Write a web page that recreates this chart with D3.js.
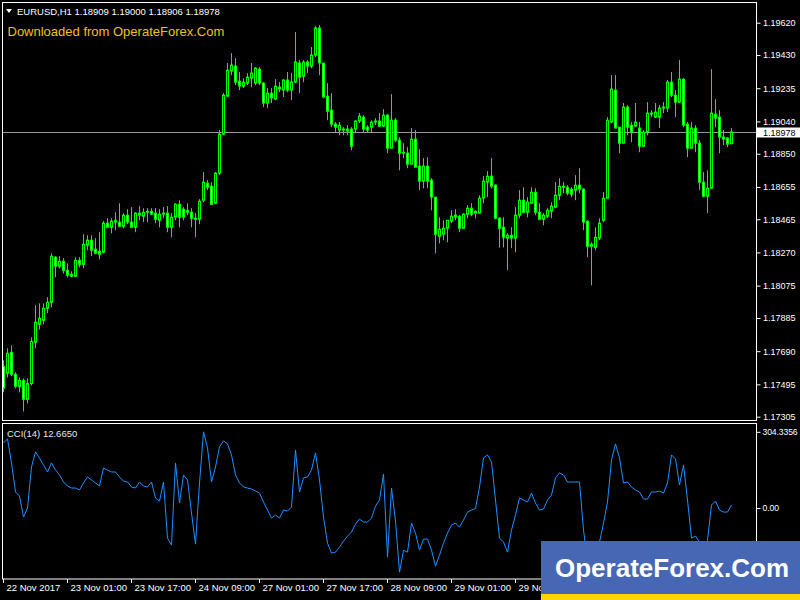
<!DOCTYPE html>
<html><head><meta charset="utf-8">
<script src="https://cdn.jsdelivr.net/npm/d3@7"></script>
<style>body{margin:0;background:#000;}svg{display:block;}text{font-family:"Liberation Sans",Arial,sans-serif;}</style>
</head><body>
<script>
const opens=[1.17601,1.17560,1.17683,1.17554,1.17483,1.17518,1.17407,1.17500,1.17742,1.17848,
1.17871,1.17942,1.17977,1.18242,1.18189,1.18218,1.18165,1.18142,1.18130,1.18224,
1.18200,1.18312,1.18342,1.18289,1.18277,1.18271,1.18442,1.18418,1.18448,1.18448,
1.18424,1.18489,1.18448,1.18418,1.18489,1.18483,1.18506,1.18512,1.18501,1.18459,
1.18495,1.18501,1.18418,1.18477,1.18553,1.18524,1.18506,1.18506,1.18471,1.18465,
1.18577,1.18677,1.18659,1.18559,1.18736,1.18965,1.19188,1.19336,1.19365,1.19277,
1.19247,1.19265,1.19294,1.19265,1.19347,1.19265,1.19148,1.19206,1.19171,1.19241,
1.19224,1.19283,1.19224,1.19271,1.19383,1.19306,1.19389,1.19365,1.19430,1.19589,
1.19383,1.19188,1.19106,1.19024,1.18989,1.18995,1.18983,1.18995,1.18995,1.19042,
1.19065,1.19006,1.19006,1.19036,1.19042,1.19012,1.19077,1.18883,1.19047,1.18930,
1.18853,1.18853,1.18789,1.18936,1.18777,1.18689,1.18777,1.18695,1.18595,1.18365,
1.18377,1.18412,1.18454,1.18477,1.18483,1.18412,1.18495,1.18530,1.18501,1.18501,
1.18589,1.18683,1.18718,1.18665,1.18471,1.18418,1.18354,1.18371,1.18354,1.18489,
1.18577,1.18506,1.18559,1.18624,1.18506,1.18465,1.18483,1.18512,1.18536,1.18606,
1.18659,1.18653,1.18642,1.18636,1.18665,1.18642,1.18454,1.18306,1.18300,1.18354,
1.18459,1.18589,1.19036,1.19224,1.19006,1.18912,1.19124,1.19018,1.19012,1.19001,
1.18894,1.18977,1.19089,1.19065,1.19065,1.19118,1.19118,1.19271,1.19194,1.19153,
1.19288,1.19024,1.18883,1.19001,1.18912,1.18683,1.18600,1.18647,1.19083,1.19065,
1.18948,1.18942,1.18909];
const highs=[1.17636,1.17707,1.17724,1.17566,1.17536,1.17530,1.17530,1.17771,1.17960,1.17971,
1.17971,1.18007,1.18265,1.18248,1.18248,1.18236,1.18206,1.18159,1.18242,1.18242,
1.18377,1.18371,1.18371,1.18354,1.18389,1.18454,1.18471,1.18471,1.18506,1.18559,
1.18501,1.18524,1.18536,1.18506,1.18542,1.18530,1.18530,1.18530,1.18530,1.18524,
1.18536,1.18542,1.18501,1.18559,1.18577,1.18536,1.18559,1.18530,1.18501,1.18583,
1.18742,1.18695,1.18683,1.18742,1.18989,1.19206,1.19383,1.19441,1.19412,1.19330,
1.19294,1.19324,1.19383,1.19359,1.19359,1.19271,1.19236,1.19236,1.19288,1.19271,
1.19288,1.19330,1.19324,1.19565,1.19400,1.19400,1.19400,1.19477,1.19600,1.19606,
1.19383,1.19265,1.19206,1.19036,1.19036,1.19006,1.19018,1.19006,1.19047,1.19089,
1.19077,1.19018,1.19047,1.19059,1.19089,1.19112,1.19083,1.19200,1.19059,1.18948,
1.18912,1.18889,1.19001,1.18989,1.18877,1.18824,1.18830,1.18706,1.18595,1.18477,
1.18459,1.18459,1.18518,1.18524,1.18489,1.18501,1.18548,1.18559,1.18518,1.18606,
1.18718,1.18748,1.18824,1.18671,1.18477,1.18477,1.18383,1.18418,1.18536,1.18636,
1.18653,1.18595,1.18653,1.18647,1.18559,1.18501,1.18530,1.18565,1.18683,1.18706,
1.18683,1.18665,1.18653,1.18724,1.18765,1.18647,1.18459,1.18330,1.18418,1.18471,
1.18624,1.19065,1.19312,1.19312,1.19006,1.19148,1.19136,1.19036,1.19148,1.19036,
1.18989,1.19153,1.19106,1.19148,1.19136,1.19153,1.19283,1.19330,1.19224,1.19400,
1.19294,1.19036,1.19036,1.19018,1.18930,1.18742,1.18753,1.19347,1.19171,1.19106,
1.18989,1.18948,1.19000];
const lows=[1.17448,1.17536,1.17542,1.17472,1.17448,1.17336,1.17383,1.17489,1.17707,1.17818,
1.17848,1.17913,1.17948,1.18124,1.18177,1.18147,1.18124,1.18124,1.18124,1.18183,
1.18177,1.18283,1.18248,1.18259,1.18230,1.18265,1.18412,1.18383,1.18401,1.18418,
1.18412,1.18436,1.18412,1.18389,1.18459,1.18448,1.18448,1.18489,1.18442,1.18418,
1.18471,1.18389,1.18359,1.18459,1.18418,1.18459,1.18489,1.18418,1.18359,1.18436,
1.18565,1.18636,1.18548,1.18553,1.18724,1.18959,1.19183,1.19312,1.19253,1.19224,
1.19236,1.19253,1.19241,1.19253,1.19253,1.19124,1.19118,1.19148,1.19165,1.19212,
1.19183,1.19212,1.19165,1.19265,1.19206,1.19271,1.19324,1.19353,1.19418,1.19312,
1.19177,1.19047,1.19006,1.18977,1.18959,1.18959,1.18959,1.18871,1.18977,1.19030,
1.18971,1.18977,1.18977,1.19018,1.19006,1.19006,1.18853,1.18883,1.18918,1.18753,
1.18824,1.18765,1.18789,1.18771,1.18636,1.18647,1.18647,1.18518,1.18265,1.18324,
1.18342,1.18330,1.18442,1.18459,1.18389,1.18412,1.18471,1.18483,1.18471,1.18501,
1.18559,1.18595,1.18647,1.18465,1.18300,1.18300,1.18165,1.18295,1.18271,1.18471,
1.18501,1.18477,1.18559,1.18489,1.18459,1.18430,1.18471,1.18471,1.18530,1.18577,
1.18618,1.18606,1.18595,1.18577,1.18618,1.18401,1.18242,1.18077,1.18283,1.18342,
1.18448,1.18589,1.19030,1.19001,1.18853,1.18912,1.18959,1.18918,1.19006,1.18859,
1.18889,1.18959,1.19065,1.19059,1.19001,1.19089,1.19095,1.19183,1.19065,1.19148,
1.19006,1.18830,1.18883,1.18859,1.18636,1.18595,1.18501,1.18647,1.19006,1.18853,
1.18900,1.18889,1.18906];
const closes=[1.17472,1.17677,1.17554,1.17483,1.17518,1.17407,1.17500,1.17747,1.17860,1.17883,
1.17942,1.17977,1.18248,1.18189,1.18218,1.18165,1.18136,1.18130,1.18224,1.18200,
1.18318,1.18342,1.18283,1.18265,1.18259,1.18442,1.18418,1.18454,1.18459,1.18424,
1.18489,1.18448,1.18418,1.18501,1.18501,1.18506,1.18512,1.18495,1.18465,1.18495,
1.18501,1.18418,1.18477,1.18553,1.18477,1.18477,1.18518,1.18471,1.18465,1.18571,
1.18683,1.18653,1.18553,1.18736,1.18965,1.19194,1.19341,1.19371,1.19271,1.19247,
1.19271,1.19300,1.19324,1.19353,1.19265,1.19148,1.19206,1.19177,1.19247,1.19230,
1.19283,1.19224,1.19271,1.19389,1.19300,1.19389,1.19365,1.19430,1.19589,1.19383,
1.19183,1.19100,1.19024,1.19006,1.19018,1.18989,1.18995,1.18894,1.19042,1.19071,
1.18995,1.18989,1.19036,1.19042,1.19012,1.19077,1.18883,1.19047,1.18930,1.18853,
1.18859,1.18789,1.18936,1.18771,1.18689,1.18777,1.18689,1.18595,1.18377,1.18406,
1.18412,1.18459,1.18483,1.18489,1.18412,1.18495,1.18530,1.18495,1.18512,1.18589,
1.18689,1.18718,1.18659,1.18471,1.18412,1.18359,1.18371,1.18354,1.18489,1.18577,
1.18506,1.18565,1.18624,1.18506,1.18465,1.18489,1.18518,1.18542,1.18606,1.18659,
1.18653,1.18618,1.18612,1.18665,1.18642,1.18448,1.18306,1.18318,1.18359,1.18442,
1.18589,1.19047,1.19230,1.19001,1.18912,1.19124,1.19006,1.18977,1.19036,1.18894,
1.18977,1.19089,1.19083,1.19095,1.19118,1.19124,1.19271,1.19194,1.19153,1.19288,
1.19018,1.18883,1.19001,1.18912,1.18683,1.18600,1.18647,1.19089,1.19059,1.18948,
1.18936,1.18906,1.18978];
const cci=[260,276,180,64,48,-36,0,164,224,200,
172,144,180,152,132,104,88,80,80,72,
100,124,112,100,88,160,152,144,144,124,
108,104,84,80,104,88,84,104,40,28,
104,-120,-148,180,20,132,112,-20,-144,100,
304.3356,240,104,164,244,268,256,212,132,100,
84,80,76,68,60,24,-8,-40,-28,-40,
-8,-12,4,232,64,120,124,152,220,112,
-36,-140,-180,-176,-156,-132,-112,-96,-64,-44,
-56,-56,-40,8,32,136,-196,80,-52,-256,
-168,-176,-60,-100,-168,-124,-124,-168,-232,-188,
-140,-100,-68,-60,-76,-48,-16,-8,-2,84,
200,212,184,32,-120,-136,-176,-88,-28,40,
32,24,60,20,-8,-4,32,52,120,140,
132,104,104,104,104,-88,-208,-272,-232,-136,
-60,24,192,256,200,100,104,84,72,64,
36,36,64,64,68,60,100,212,196,92,
172,32,-120,-112,-136,-216,-128,12,28,-8,
-16,-16,12.665];
const priceTicks=[1.19620,1.19430,1.19235,1.19040,1.18850,1.18655,1.18465,1.18270,1.18075,1.17885,1.17690,1.17495,1.17305];
const cciTicks=[304.3356,0];
const cciTickLabels=["304.3356","0.00"];
const timeTickIdx=[0,16,32,48,64,80,96,112,128,144,160,176];
const timeLabels=["22 Nov 2017","23 Nov 01:00","23 Nov 17:00","24 Nov 09:00","27 Nov 01:00","27 Nov 17:00","28 Nov 09:00","29 Nov 01:00","29 Nov 17:00","30 Nov 09:00","1 Dec 01:00","1 Dec 17:00"];
const headerText="EURUSD,H1  1.18909 1.19000 1.18906 1.18978";
const cciText="CCI(14) 12.6650";
const brandText="Downloaded from OperateForex.Com";
const watermarkText="OperateForex.Com";

const W=800,H=600;
const svg=d3.select("body").append("svg").attr("width",W).attr("height",H);
svg.append("rect").attr("width",W).attr("height",H).attr("fill","#000");

const mainTop=2.5,mainBot=420.5,left=2.5,right=756.5;
const subTop=423.5,subBot=579;
const x=d3.scaleLinear().domain([0,182]).range([3.5,731.5]);
const y=d3.scaleLinear().domain([1.17305,1.19620]).range([416.7,22.7]);
const yc=d3.scaleLinear().domain([-280,304.3356]).range([578.2,431.8]);

svg.append("defs").append("clipPath").attr("id","mclip").append("rect")
 .attr("x",left).attr("y",mainTop).attr("width",right-left).attr("height",mainBot-mainTop);
svg.select("defs").append("clipPath").attr("id","sclip").append("rect")
 .attr("x",left).attr("y",subTop).attr("width",right-left).attr("height",subBot-subTop);

// bid line
const lastClose=closes[closes.length-1];
const ly=Math.round(y(lastClose))+0.5;
svg.append("line").attr("x1",left).attr("x2",right).attr("y1",ly).attr("y2",ly)
 .attr("stroke","#9a9a9a").attr("stroke-width",1);

// candles
const idx=d3.range(opens.length);
const cg=svg.append("g").attr("clip-path","url(#mclip)");
cg.selectAll("line.w").data(idx).join("line").attr("class","w")
 .attr("x1",i=>x(i)).attr("x2",i=>x(i))
 .attr("y1",i=>y(highs[i])).attr("y2",i=>y(lows[i]))
 .attr("stroke","#00ff00").attr("stroke-width",1);
cg.selectAll("rect.b").data(idx).join("rect").attr("class","b")
 .attr("x",i=>x(i)-1).attr("width",2)
 .attr("y",i=>Math.min(y(opens[i]),y(closes[i])))
 .attr("height",i=>Math.max(0.5,Math.abs(y(opens[i])-y(closes[i]))))
 .attr("fill",i=>closes[i]>=opens[i]?"#000":"#d8ffd8")
 .attr("stroke","#00ff00").attr("stroke-width",1);

// frames
svg.append("rect").attr("x",left).attr("y",mainTop).attr("width",right-left).attr("height",mainBot-mainTop)
 .attr("fill","none").attr("stroke","#fff");
svg.append("rect").attr("x",left).attr("y",subTop).attr("width",right-left).attr("height",subBot-subTop)
 .attr("fill","none").attr("stroke","#fff");

// price axis
const pa=svg.append("g").attr("transform",`translate(${right},0)`)
 .call(d3.axisRight(y).tickValues(priceTicks).tickSize(4).tickPadding(2.5).tickFormat(d3.format(".5f")));
pa.select(".domain").remove();
pa.selectAll("line").attr("stroke","#fff");
pa.selectAll("text").attr("fill","#fff").style("font-size","9px").style("font-family","Liberation Sans, Arial, sans-serif");

// price label box
svg.append("rect").attr("x",757).attr("y",ly-5).attr("width",43).attr("height",10).attr("fill","#fff");
svg.append("text").attr("x",763).attr("y",ly+3.5).attr("fill","#000").style("font-size","9px").text(d3.format(".5f")(lastClose));

// CCI
const ccg=svg.append("g").attr("clip-path","url(#sclip)");
ccg.append("path").datum(idx).attr("fill","none").attr("stroke","#1e90ff").attr("stroke-width",1)
 .attr("d",d3.line().x(i=>x(i)).y(i=>yc(cci[i])));
const ca=svg.append("g").attr("transform",`translate(${right},0)`)
 .call(d3.axisRight(yc).tickValues(cciTicks).tickSize(4).tickPadding(2).tickFormat((d,i)=>cciTickLabels[i]));
ca.select(".domain").remove();
ca.selectAll("line").attr("stroke","#fff");
ca.selectAll("text").attr("fill","#fff").style("font-size","8.6px").style("letter-spacing","-0.1px").style("font-family","Liberation Sans, Arial, sans-serif");

// time axis
const ta=svg.append("g").attr("transform",`translate(0,${subBot})`)
 .call(d3.axisBottom(x).tickValues(timeTickIdx).tickSize(4).tickPadding(1.5).tickFormat((d,i)=>timeLabels[i]));
ta.select(".domain").remove();
ta.selectAll("line").attr("stroke","#fff").attr("transform","translate(-0.5,0)");
ta.selectAll("text").attr("fill","#fff").attr("text-anchor","start").attr("dx","2.5")
 .style("font-size","9.5px").style("font-family","Liberation Sans, Arial, sans-serif");

// texts
svg.append("path").attr("d","M6,9 L12,9 L9,13 Z").attr("fill","#fff");
svg.append("text").attr("x",17).attr("y",15).attr("fill","#fff").style("font-size","9.5px").text(headerText);
svg.append("text").attr("x",7.5).attr("y",36).attr("fill","#eec21c").style("font-size","13px").text(brandText);
svg.append("text").attr("x",7).attr("y",437).attr("fill","#e8e8e8").style("font-size","9.5px").text(cciText);

// watermark
svg.append("rect").attr("x",541).attr("y",541).attr("width",259).attr("height",59).attr("fill","#4667b3");
svg.append("rect").attr("x",541).attr("y",594).attr("width",259).attr("height",6).attr("fill","#ffd700");
svg.append("text").attr("x",555).attr("y",577).attr("fill","#fff").style("font-size","26px").style("font-weight","bold").text(watermarkText);
</script>
</body></html>
